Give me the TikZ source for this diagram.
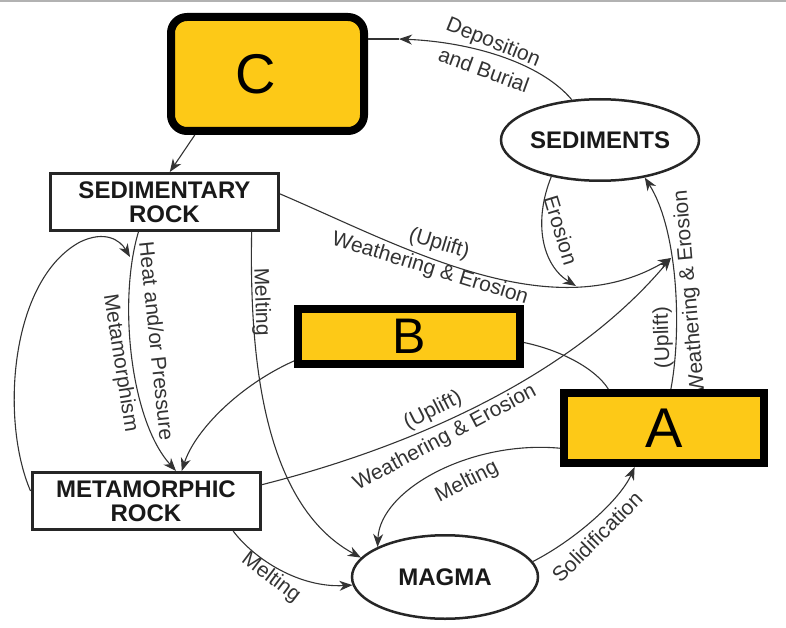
\documentclass[tikz,border=0pt]{standalone}
\usepackage{fontspec}
\setmainfont{Liberation Sans}
\usetikzlibrary{arrows.meta,shapes.geometric}
\definecolor{gold}{RGB}{253,201,23}
\definecolor{ink}{RGB}{51,51,51}

\begin{document}
\begin{tikzpicture}[x=1pt, y=-1pt, >={Stealth[length=13pt,width=10pt,inset=4pt]},
	flow/.style={draw=ink, line width=1.1pt},
	lbl/.style={font=\fontsize{21}{23}\selectfont, text=ink, inner sep=0pt},
	rock/.style={draw=black!85, line width=3pt, fill=white, minimum width=228pt, minimum height=57pt,
		align=center, inner sep=0pt, text=black!90, font=\fontsize{24}{24}\selectfont\bfseries},
	blob/.style={ellipse, draw=black!85, line width=2.5pt, fill=white, inner sep=0pt,
		text=black!90, font=\fontsize{24}{24}\selectfont\bfseries},
	hidden/.style={draw=black, line width=8pt, fill=gold, inner sep=0pt}]
	\useasboundingbox (0,0) rectangle (786,628);
	\fill[black!30] (0,0) rectangle (786,2.5);

	% 1. labels
	\node[lbl, rotate=-22] (lDep) at (493,43) {Deposition};
	\node[lbl, rotate=-20] (lBur) at (484,70) {and Burial};
	\node[lbl, rotate=-73] (lEro) at (561,230) {Erosion};
	\node[lbl, rotate=-17] (lUpA) at (439,244) {(Uplift)};
	\node[lbl, rotate=-17] (lWeA) at (430,269) {Weathering \& Erosion};
	\node[lbl, rotate=27] (lUpB) at (433,411) {(Uplift)};
	\node[lbl, rotate=28] (lWeB) at (445,438) {Weathering \& Erosion};
	\node[lbl, rotate=92] (lUpC) at (663,338) {(Uplift)};
	\node[lbl, rotate=95] (lWeC) at (690,292) {Weathering \& Erosion};
	\node[lbl, rotate=-84] (lHeat) at (157,341) {Heat and/or Pressure};
	\node[lbl, rotate=-81] (lMet) at (120,363) {Metamorphism};
	\node[lbl, rotate=-88] (lMeltA) at (261,302) {Melting};
	\node[lbl, rotate=-37] (lMeltB) at (271,578) {Melting};
	\node[lbl, rotate=27] (lMeltC) at (467,482) {Melting};
	\node[lbl, rotate=45] (lSol) at (597,537) {Solidification};

	% 2. rocks and boxes
	\node[rock] (sedrock) at (164.5,202) {SEDIMENTARY\\ROCK};
	\node[rock] (meta) at (146,501) {METAMORPHIC\\ROCK};
	\node[blob, minimum width=187.5pt, minimum height=81.5pt] (sed) at (600,140) {SEDIMENTS};
	\node[blob, minimum width=186pt, minimum height=83.5pt] (magma) at (445,577) {MAGMA};
	\node[hidden, rounded corners=16pt, minimum width=193pt, minimum height=114pt,
		font=\fontsize{56}{56}\selectfont] (C) at (267.5,74) {C\hspace*{24pt}};
	\node[hidden, minimum width=222pt, minimum height=55pt,
		font=\fontsize{50}{50}\selectfont] (B) at (409,336.5) {B};
	\node[hidden, minimum width=200pt, minimum height=70pt,
		font=\fontsize{56}{56}\selectfont] (A) at (664,428) {A};

	% 3. connectors
	\coordinate (dep) at (399,39);
	\coordinate (ero) at (576,286);
	\coordinate (we) at (671,258);
	\coordinate (hp) at (130,257);
	\draw[flow, ->] (sed.125) .. controls (540,62) and (470,42) .. (dep);
	\draw[flow] (dep) -- (C.east |- dep);
	\draw[flow, ->] (C.220) -- (sedrock.80);
	\draw[flow, ->] (sed.217) .. controls (533,222) and (542,265) .. (ero);
	\draw[flow, ->] (sedrock.4) .. controls (400,245) and (550,330) .. (we);
	\draw[flow, ->] (meta.8) .. controls (380,455) and (560,390) .. (we);
	\draw[flow, ->] (A.80) .. controls (682,330) and (678,230) .. (sed.320);
	\draw[flow] (B.-3) .. controls (560,350) and (595,368) .. (A.145);
	\draw[flow, ->] (B.192) .. controls (240,385) and (195,430) .. (meta.40);
	\draw[flow, ->] (sedrock.229) .. controls (118,300) and (130,420) .. (meta.45);
	\draw[flow, ->] (meta.175) .. controls (0,420) and (10,280) .. (80,242)
		.. controls (105,230) and (120,240) .. (hp);
	\draw[flow, ->] (sedrock.341) .. controls (250,330) and (255,500) .. (magma.167);
	\draw[flow, ->] (meta.341) .. controls (255,560) and (300,588) .. (magma.185);
	\draw[flow, ->] (A.191) .. controls (470,440) and (380,490) .. (magma.156);
	\draw[flow, ->] (magma.10) .. controls (575,540) and (620,500) .. (A.233);
\end{tikzpicture}
\end{document}
